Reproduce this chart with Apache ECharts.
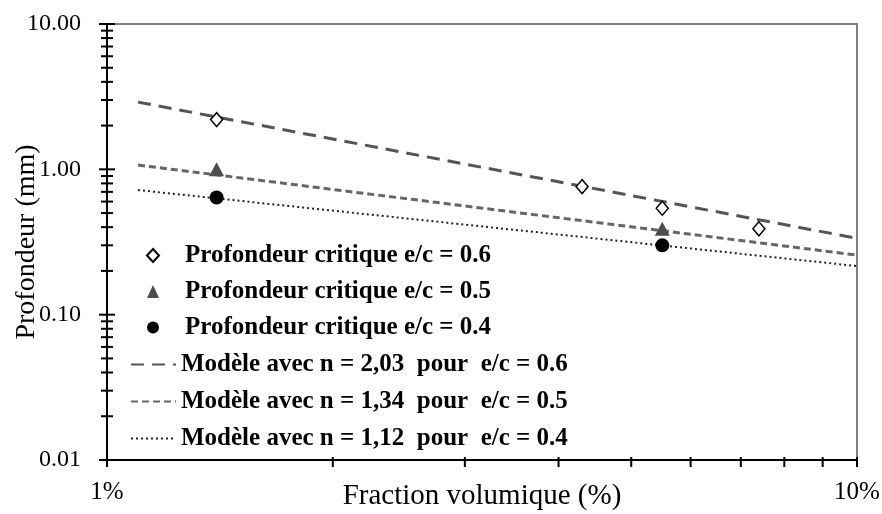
<!DOCTYPE html>
<html>
<head>
<meta charset="utf-8">
<script src="https://cdn.jsdelivr.net/npm/echarts@6/dist/echarts.min.js"></script>
<style>
  html, body { margin: 0; padding: 0; background: #fff; }
  #chart { width: 882px; height: 514px; }
</style>
</head>
<body>
<div id="chart"></div>
<script>
// Measured critical depths (mm) against volume fraction (%)
const fracEc06 = [1.4, 4.3, 5.5, 7.4];
const depthEc06 = [2.2, 0.76, 0.54, 0.39];
const fracEc05 = [1.4, 5.5];
const depthEc05 = [1.0, 0.39];
const fracEc04 = [1.4, 5.5];
const depthEc04 = [0.64, 0.30];

// Power-law model lines (straight on log-log axes): end points
const modelFrac = [1.1, 10];
const modelEc06 = [2.9, 0.335];
const modelEc05 = [1.07, 0.257];
const modelEc04 = [0.72, 0.216];

// Axis ticks
const xTicks = [1, 2, 3, 4, 5, 6, 7, 8, 9, 10];
const xTickLabels = { 1: '1%', 10: '10%' };
const yMajorTicks = [0.01, 0.1, 1, 10];
const yMinorTicks = [
  0.02, 0.03, 0.04, 0.05, 0.06, 0.07, 0.08, 0.09,
  0.2, 0.3, 0.4, 0.5, 0.6, 0.7, 0.8, 0.9,
  2, 3, 4, 5, 6, 7, 8, 9
];

const names = [
  'Profondeur critique e/c = 0.6',
  'Profondeur critique e/c = 0.5',
  'Profondeur critique e/c = 0.4',
  'Modèle avec n = 2,03  pour  e/c = 0.6',
  'Modèle avec n = 1,34  pour  e/c = 0.5',
  'Modèle avec n = 1,12  pour  e/c = 0.4'
];

const pairs = (xs, ys) => xs.map((x, i) => [x, ys[i]]);
const serif = '"Liberation Serif", "Times New Roman", serif';

const chart = echarts.init(document.getElementById('chart'), null, { renderer: 'canvas' });

const legendText = { fontFamily: serif, fontWeight: 'bold', fontSize: 25, color: '#000' };

chart.setOption({
  animation: false,
  backgroundColor: '#fff',
  grid: {
    left: 107, right: 25, top: 24, bottom: 54,
    outerBoundsMode: 'none', containLabel: false,
    show: true, borderColor: '#808080', borderWidth: 2, backgroundColor: 'transparent'
  },
  xAxis: {
    type: 'log', logBase: 10, min: 1, max: 10,
    name: 'Fraction volumique (%)', nameLocation: 'middle', nameGap: 22,
    nameMoveOverlap: false,
    nameTextStyle: { fontFamily: serif, fontSize: 29, color: '#000', verticalAlign: 'top' },
    axisLine: { show: true, lineStyle: { color: '#000', width: 2 } },
    axisTick: { show: false },
    splitLine: { show: false },
    axisLabel: {
      fontFamily: serif, fontSize: 25, color: '#000', margin: 20,
      formatter: v => xTickLabels[Math.round(v)] || ''
    }
  },
  yAxis: {
    type: 'log', logBase: 10, min: 0.01, max: 10,
    name: 'Profondeur (mm)', nameLocation: 'middle', nameGap: 66,
    nameMoveOverlap: false,
    nameTextStyle: { fontFamily: serif, fontSize: 28, color: '#000' },
    axisLine: { show: true, lineStyle: { color: '#000', width: 2 } },
    axisTick: { show: false },
    splitLine: { show: false },
    axisLabel: {
      fontFamily: serif, fontSize: 24, color: '#000', margin: 26,
      formatter: v => Number(v).toFixed(2)
    }
  },
  legend: [
    {
      orient: 'vertical', left: 141, top: 238, itemWidth: 12, itemHeight: 13, itemGap: 11,
      textStyle: Object.assign({ padding: [0, 0, 0, 21] }, legendText),
      data: names.slice(0, 3)
    },
    {
      orient: 'vertical', left: 125, top: 347, itemWidth: 45, itemHeight: 14, itemGap: 12,
      itemStyle: { opacity: 0 },
      textStyle: legendText,
      data: names.slice(3)
    }
  ],
  series: [
    {
      name: names[0], type: 'scatter', data: pairs(fracEc06, depthEc06), z: 5,
      symbol: 'diamond', symbolSize: [12, 14],
      itemStyle: { color: '#fff', borderColor: '#000', borderWidth: 1.5, opacity: 1 }
    },
    {
      name: names[1], type: 'scatter', data: pairs(fracEc05, depthEc05), z: 5,
      symbol: 'triangle', symbolSize: [15, 14],
      itemStyle: { color: '#4d4d4d', opacity: 1 }
    },
    {
      name: names[2], type: 'scatter', data: pairs(fracEc04, depthEc04), z: 5,
      symbol: 'circle', symbolSize: 14,
      itemStyle: { color: '#000', opacity: 1 }
    },
    {
      name: names[3], type: 'line', data: pairs(modelFrac, modelEc06), showSymbol: false, symbol: 'none',
      lineStyle: { color: '#555', width: 3, type: [13, 8] }, itemStyle: { color: '#555' }
    },
    {
      name: names[4], type: 'line', data: pairs(modelFrac, modelEc05), showSymbol: false, symbol: 'none',
      lineStyle: { color: '#666', width: 3, type: [7, 4] }, itemStyle: { color: '#666' }
    },
    {
      name: names[5], type: 'line', data: pairs(modelFrac, modelEc04), showSymbol: false, symbol: 'none',
      lineStyle: { color: '#222', width: 2, type: [2, 3] }, itemStyle: { color: '#222' }
    }
  ]
});

// Tick marks drawn through the axis scales: crossing ticks on the y axis,
// downward ticks on the x axis.
const ticks = [];
const tickStyle = { stroke: '#000', lineWidth: 2 };
const yAxisX = chart.convertToPixel({ gridIndex: 0 }, [1, 1])[0];
const xAxisY = chart.convertToPixel({ gridIndex: 0 }, [1, 0.01])[1];
yMajorTicks.forEach(v => {
  const y = chart.convertToPixel({ gridIndex: 0 }, [1, v])[1];
  ticks.push({ type: 'line', shape: { x1: yAxisX - 8, y1: y, x2: yAxisX + 8, y2: y }, style: tickStyle, silent: true });
});
yMinorTicks.forEach(v => {
  const y = chart.convertToPixel({ gridIndex: 0 }, [1, v])[1];
  ticks.push({ type: 'line', shape: { x1: yAxisX - 6, y1: y, x2: yAxisX + 6, y2: y }, style: tickStyle, silent: true });
});
xTicks.forEach(v => {
  const x = chart.convertToPixel({ gridIndex: 0 }, [v, 0.01])[0];
  ticks.push({ type: 'line', shape: { x1: x, y1: xAxisY - 3, x2: x, y2: xAxisY + 7 }, style: tickStyle, silent: true });
});
chart.setOption({ graphic: ticks });
</script>
</body>
</html>
